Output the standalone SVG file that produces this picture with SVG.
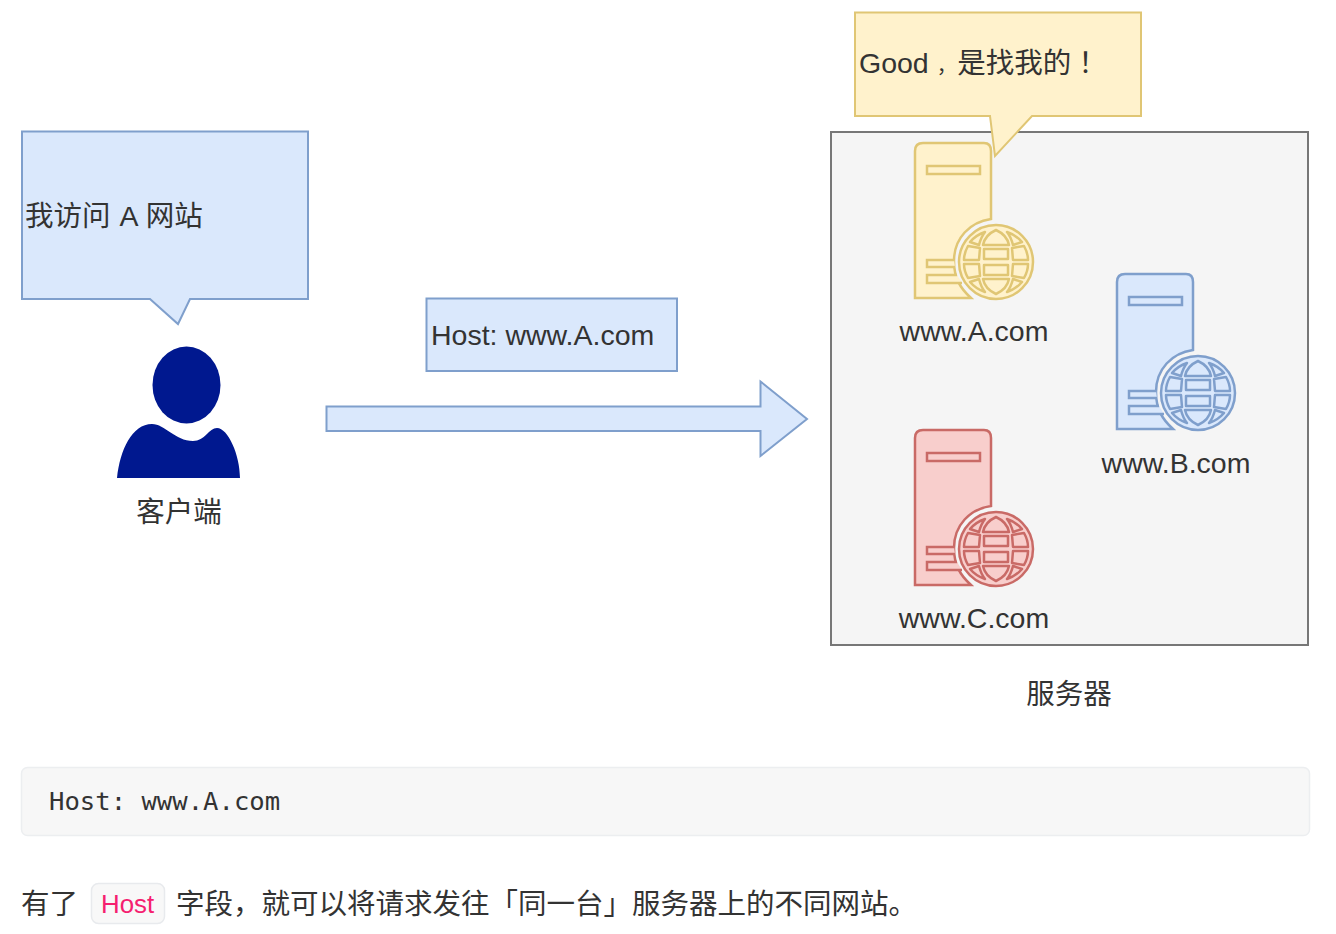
<svg xmlns="http://www.w3.org/2000/svg" width="1336" height="934" viewBox="0 0 1336 934">
<style>
text{font-family:"Liberation Sans","Noto Sans CJK SC",sans-serif;font-size:28.500px;fill:#333}
.mid{text-anchor:middle}
.blue{fill:#dae8fc;stroke:#7f9fcc;stroke-width:2}
.yellow{fill:#fff2cc;stroke:#e0c674;stroke-width:2}
.red{fill:#f8cecc;stroke:#c96a66;stroke-width:2}
.heavy{stroke-width:2.500}
.bubble{stroke-linejoin:miter}
.mono{font-family:"DejaVu Sans Mono",monospace;font-size:25.600px}
</style>
<defs>
<g id="srv">
<path d="M915,298V151Q915,143 923,143H984Q991,143 991,151V219C970,222 954,238 954,261C954,278 960,288 971,298Z"/>
<rect x="927" y="166" width="53" height="8"/>
<path d="M954,260H927V267H955"/>
<path d="M957,275H927V283H962"/>
<circle cx="996" cy="262" r="37"/>
<g transform="translate(996 262)" stroke-linejoin="round">
<g id="gq">
<rect x="-12" y="-13" width="24" height="10"/>
<path d="M0,-32Q-11,-27 -13,-17H13Q11,-27 0,-32Z"/>
<path id="gs" d="M-28,-16Q-32,-9 -32,-2H-17L-16,-14Z"/>
<path id="gc" d="M-11,-30Q-20,-27 -26,-20L-17,-17Q-15,-25 -11,-30Z"/>
<use href="#gs" transform="scale(-1 1)"/>
<use href="#gc" transform="scale(-1 1)"/>
</g>
<use href="#gq" transform="scale(1 -1)"/>
</g>
</g>
</defs>
<g id="connectors">
<path id="arrow" class="blue" d="M326.500,406.500H760.500V381.500L807,419L760.500,456V431H326.500Z"/>
</g>
<g id="client-bubble">
<path class="blue bubble" d="M22,131.500H308V299H190L178,324L150,299H22Z"/>
<text x="25" y="226" style="word-spacing:1px">我访问 A 网站</text>
</g>
<g id="client">
<ellipse cx="186.500" cy="385" rx="34" ry="38.500" fill="#00188f"/>
<path fill="#00188f" d="M117,478C120,450 132,424 152,424C165,424 175,441 193,441C205,441 209,428 217,428C228,428 240,455 240,478Z"/>
<text class="mid" x="179" y="522">客户端</text>
</g>
<g id="host-label">
<rect class="blue" x="426.500" y="298.500" width="250.500" height="72.500"/>
<text x="431" y="345">Host: www.A.com</text>
</g>
<g id="server-group">
<rect x="831" y="132" width="477" height="513" fill="#f5f5f5" stroke="#777" stroke-width="2"/>
<text class="mid" x="1069" y="704">服务器</text>
</g>
<g id="server-a">
<use href="#srv" class="yellow heavy"/>
<text class="mid" x="974" y="341">www.A.com</text>
</g>
<g id="server-b">
<use href="#srv" class="blue heavy" transform="translate(202 131)"/>
<text class="mid" x="1176" y="473">www.B.com</text>
</g>
<g id="server-c">
<use href="#srv" class="red heavy" transform="translate(0 287)"/>
<text class="mid" x="974" y="628">www.C.com</text>
</g>
<g id="server-bubble">
<path class="yellow bubble" d="M855,12.500H1141V116H1032L995,156L990,116H855Z"/>
<text x="859" y="73">Good<tspan dx="8" style="font-size:20px">，</tspan><tspan dx="0.500">是找我的</tspan><tspan style="font-family:'Liberation Sans','Noto Sans CJK TC',sans-serif">！</tspan></text>
</g>
<g id="code-block">
<rect x="21.500" y="767.500" width="1288" height="68" rx="6" fill="#f7f7f7" stroke="#eceef0" stroke-width="1.500"/>
<text class="mono" x="49" y="810">Host: www.A.com</text>
</g>
<g id="paragraph">
<text x="21" y="914">有了</text>
<rect x="91.500" y="883.500" width="73" height="40" rx="7" fill="#f8f8f8" stroke="#e8eaed" stroke-width="1.500"/>
<text x="101" y="913" style="fill:#f5206f;font-size:25.800px">Host</text>
<text x="176" y="914">字段，就可以将请求发往「同一台」服务器上的不同网站。</text>
</g>
</svg>
